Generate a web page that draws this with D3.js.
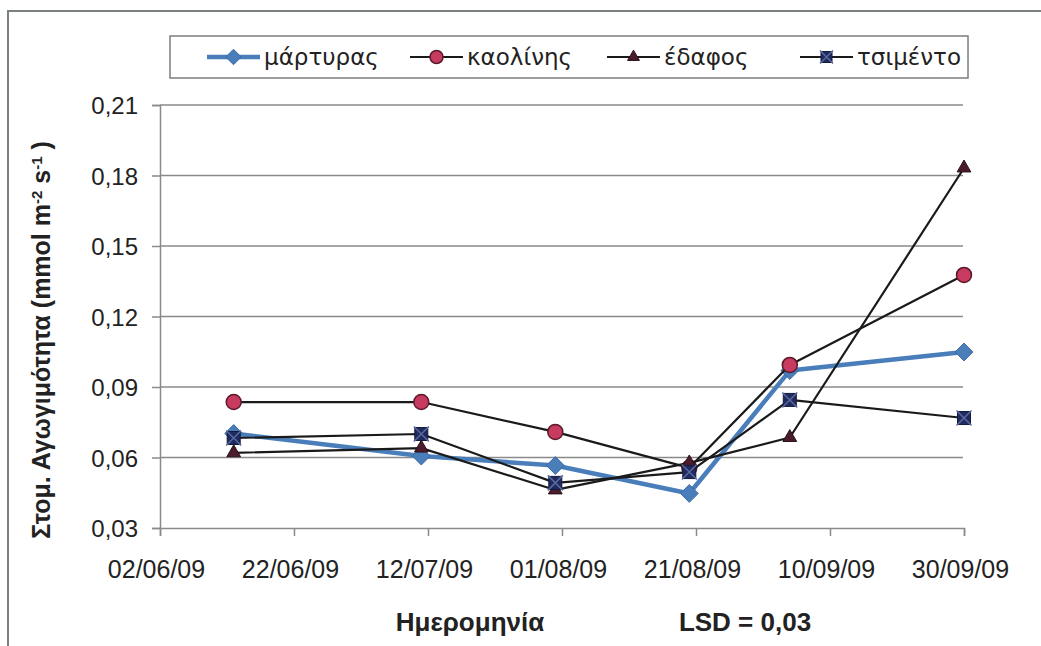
<!DOCTYPE html>
<meta charset="utf-8">
<script src="https://cdn.jsdelivr.net/npm/d3@7"></script>
<style>
  body { margin: 0; background: #fff; }
  text { font-family: "Liberation Sans", Arial, sans-serif; fill: #222; }
</style>
<body>
<script>
  // data
  var dates = ["13/06/09", "11/07/09", "31/07/09", "20/08/09", "04/09/09", "30/09/09"];
  var martyras = [0.0702, 0.0606, 0.0566, 0.0447, 0.0970, 0.1049];
  var kaolinis = [0.0836, 0.0836, 0.0709, 0.0556, 0.0994, 0.1377];
  var edafos = [0.0620, 0.0640, 0.0462, 0.0577, 0.0685, 0.1832];
  var tsimento = [0.0683, 0.0700, 0.0492, 0.0538, 0.0845, 0.0768];
  var seriesNames = ["μάρτυρας", "καολίνης", "έδαφος", "τσιμέντο"];
  var xTicks = ["02/06/09", "22/06/09", "12/07/09", "01/08/09", "21/08/09", "10/09/09", "30/09/09"];
  var yTicks = [0.03, 0.06, 0.09, 0.12, 0.15, 0.18, 0.21];

  var W = 1041, H = 646;
  var parse = d3.timeParse("%d/%m/%y");

  var svg = d3.select("body").append("svg")
    .attr("width", W)
    .attr("height", H);

  // outer frame (left + top)
  svg.append("path")
    .attr("d", "M8,646V11H1041")
    .attr("fill", "none")
    .attr("stroke", "#7a7f80")
    .attr("stroke-width", 2);

  var x = d3.scaleTime()
    .domain([parse(xTicks[0]), parse(xTicks[xTicks.length - 1])])
    .range([160, 964]);
  var y = d3.scaleLinear()
    .domain([0.03, 0.21])
    .range([528, 105]);

  // grid
  svg.append("g").selectAll("line")
    .data(yTicks.slice(1))
    .enter().append("line")
    .attr("x1", 160).attr("x2", 963)
    .attr("y1", d => y(d)).attr("y2", d => y(d))
    .attr("stroke", "#8a8a8a")
    .attr("stroke-width", 1.5);

  // y axis
  var yAxis = svg.append("g")
    .attr("transform", "translate(160,0)")
    .call(d3.axisLeft(y).tickValues(yTicks).tickSize(8).tickPadding(14)
      .tickFormat(d => d3.format(".2f")(d).replace(".", ",")));
  yAxis.select(".domain").attr("stroke", "#8a8a8a").attr("stroke-width", 1.5);
  yAxis.selectAll(".tick line").attr("stroke", "#8a8a8a").attr("stroke-width", 1.5);
  yAxis.selectAll("text").style("font-size", "24px").attr("fill", "#222").attr("dy", "0.36em");

  // x axis
  var xAxis = svg.append("g")
    .attr("transform", "translate(0,528)")
    .call(d3.axisBottom(x).tickValues(xTicks.map(parse)).tickSize(8).tickPadding(24)
      .tickFormat(d3.timeFormat("%d/%m/%y")));
  xAxis.select(".domain").attr("stroke", "#8a8a8a").attr("stroke-width", 1.5);
  xAxis.selectAll(".tick line").attr("stroke", "#8a8a8a").attr("stroke-width", 1.5);
  xAxis.selectAll("text").style("font-size", "25px").attr("fill", "#222").attr("dx", "-4");

  // series
  var series = [
    { name: seriesNames[0], values: martyras, line: "#4a7ebb", width: 4.5, marker: "diamond", fill: "#4a7ebb", edge: "#3b6aa3" },
    { name: seriesNames[1], values: kaolinis, line: "#1a1a1a", width: 2.2, marker: "circle", fill: "#c63b5f", edge: "#5a1a2a" },
    { name: seriesNames[2], values: edafos, line: "#1a1a1a", width: 2.2, marker: "triangle", fill: "#4a1c2c", edge: "#2a1018" },
    { name: seriesNames[3], values: tsimento, line: "#1a1a1a", width: 2.2, marker: "xsquare", fill: "#1f2a5e", edge: "#141a3c" }
  ];

  var line = d3.line()
    .x((d, i) => x(parse(dates[i])))
    .y(d => y(d));

  function drawMarker(g, type, s, size) {
    if (type === "diamond") {
      g.append("path").attr("d", d3.symbol(d3.symbolDiamond2, size * size * 0.9)())
        .attr("fill", s.fill).attr("stroke", s.edge).attr("stroke-width", 1);
    } else if (type === "circle") {
      g.append("circle").attr("r", size / 2)
        .attr("fill", s.fill).attr("stroke", s.edge).attr("stroke-width", 1.5);
    } else if (type === "triangle") {
      g.append("path").attr("d", d3.symbol(d3.symbolTriangle2, size * size * 0.6)())
        .attr("fill", s.fill).attr("stroke", s.edge).attr("stroke-width", 1);
    } else {
      var h = size / 2 - 1;
      g.append("rect").attr("x", -h).attr("y", -h).attr("width", 2 * h).attr("height", 2 * h)
        .attr("fill", s.fill).attr("stroke", s.edge).attr("stroke-width", 1);
      g.append("path").attr("d", "M" + (-h - 1) + "," + (-h - 1) + "L" + (h + 1) + "," + (h + 1) +
          "M" + (h + 1) + "," + (-h - 1) + "L" + (-h - 1) + "," + (h + 1))
        .attr("stroke", "#5a6aa0").attr("stroke-width", 1.5);
    }
  }

  series.forEach(function (s) {
    var g = svg.append("g");
    g.append("path")
      .datum(s.values)
      .attr("d", line)
      .attr("fill", "none")
      .attr("stroke", s.line)
      .attr("stroke-width", s.width)
      .attr("stroke-linejoin", "round");
    s.values.forEach(function (v, i) {
      var m = g.append("g").attr("transform", "translate(" + x(parse(dates[i])) + "," + y(v) + ")");
      drawMarker(m, s.marker, s, 15);
    });
  });

  // legend
  var legend = svg.append("g");
  legend.append("rect")
    .attr("x", 170).attr("y", 36).attr("width", 798).attr("height", 42)
    .attr("fill", "#fff").attr("stroke", "#7a7f80").attr("stroke-width", 1.5);
  var legX = [207, 410, 607, 800];
  series.forEach(function (s, i) {
    var lg = legend.append("g").attr("transform", "translate(" + legX[i] + ",57)");
    lg.append("line").attr("x1", 0).attr("x2", 53)
      .attr("stroke", s.line).attr("stroke-width", s.width);
    var m = lg.append("g").attr("transform", "translate(26.5,0)");
    drawMarker(m, s.marker, s, 13);
    lg.append("text").attr("x", 57).attr("dy", "0.35em")
      .style("font-family", "'DejaVu Sans', sans-serif")
      .style("font-size", "23px").text(s.name);
  });

  // y title
  var yt = svg.append("text")
    .attr("transform", "translate(50,340) rotate(-90)")
    .attr("text-anchor", "middle")
    .style("font-size", "25px")
    .style("font-weight", "bold");
  yt.append("tspan").text("Στομ. Αγωγιμότητα (mmol m");
  yt.append("tspan").attr("baseline-shift", "super").style("font-size", "15px").text("-2");
  yt.append("tspan").text(" s");
  yt.append("tspan").attr("baseline-shift", "super").style("font-size", "15px").text("-1");
  yt.append("tspan").text(" )");

  // x title and LSD
  svg.append("text")
    .attr("x", 470).attr("y", 631)
    .attr("text-anchor", "middle")
    .style("font-size", "26px").style("font-weight", "bold")
    .text("Ημερομηνία");
  svg.append("text")
    .attr("x", 745).attr("y", 631)
    .attr("text-anchor", "middle")
    .style("font-size", "26px").style("font-weight", "bold")
    .text("LSD = 0,03");
</script>
</body>
